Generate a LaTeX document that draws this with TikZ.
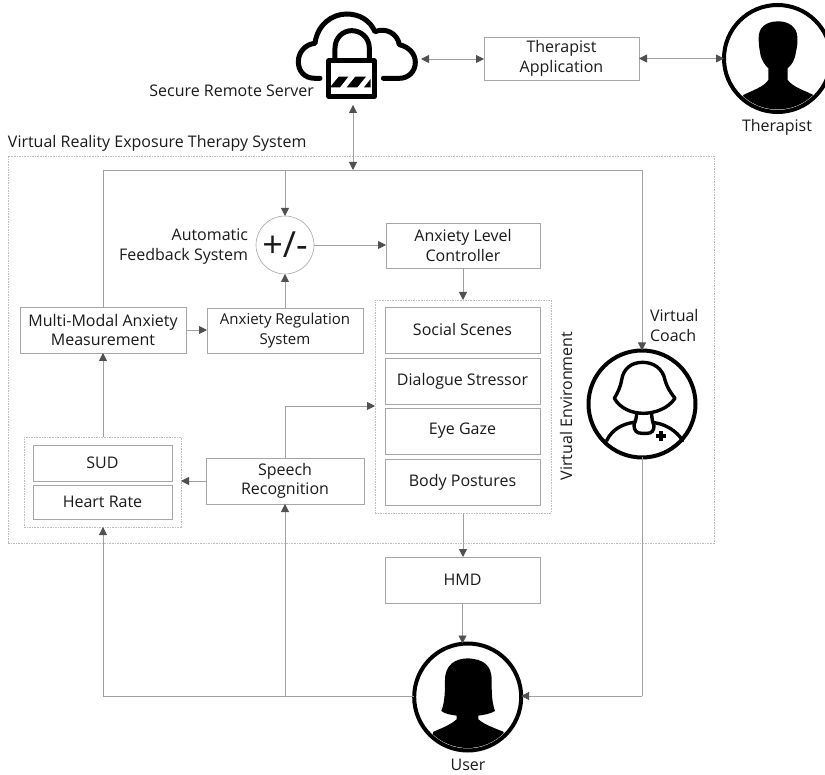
\documentclass[tikz,border=0pt]{standalone}
\usepackage{fontspec}
\setmainfont{Open Sans}
\usetikzlibrary{arrows.meta,calc}
\definecolor{boxline}{HTML}{A6A6A6}
\definecolor{wire}{HTML}{A0A0A0}
\definecolor{tip}{HTML}{505050}
\definecolor{dots}{HTML}{BDBDBD}
\definecolor{ink}{HTML}{1A1A1A}
\tikzset{
  x=1pt,y=-1pt,
  every node/.style={text=ink,font=\fontsize{16}{19.5}\selectfont,inner sep=0pt,outer sep=0pt},
  box/.style={draw=boxline,line width=.9pt,fill=white,align=center},
  group/.style={draw=dots,line width=.7pt,dash pattern=on 1.6pt off 1pt},
  wirel/.style={draw=wire,line width=.9pt},
  arr/.style={wirel,-{Triangle[length=8pt,width=8pt,color=tip]}},
  darr/.style={wirel,{Triangle[length=8pt,width=8pt,color=tip]}-{Triangle[length=8pt,width=8pt,color=tip]}},
  ring/.style={circle,draw=black,line width=4pt,minimum size=#1,fill=white},
  icon/.style={line width=#1,draw=black,line cap=round,line join=round},
  zoomA/.style={shift={(#1)},x=.3333pt,y=-.3333pt},
}
\begin{document}
\begin{tikzpicture}
\useasboundingbox (0,0) rectangle (825,775);

% groups
\node[group,minimum width=706pt,minimum height=387pt] (vr) at (361,349.5) {};
\node[group,minimum width=176pt,minimum height=213pt] (ve) at (463,406.5) {};
\node[group,minimum width=157pt,minimum height=90pt] (vitals) at (102.5,482) {};

% boxes
\node[box,minimum width=155pt,minimum height=43pt] (app) at (561.5,58.5) {Therapist\\Application};
\node[box,minimum width=154pt,minimum height=45pt] (ctrl) at (463,245.5) {Anxiety Level\\Controller};
\node[box,minimum width=155pt,minimum height=46pt] (social) at (462.5,330) {Social Scenes};
\node[box,minimum width=155pt,minimum height=46pt] (dialog) at (462.5,381) {Dialogue Stressor};
\node[box,minimum width=155pt,minimum height=46pt] (gaze) at (462.5,431) {Eye Gaze};
\node[box,minimum width=155pt,minimum height=46pt] (body) at (462.5,482) {Body Postures};
\node[box,minimum width=166pt,minimum height=46pt] (mm) at (103,330) {Multi-Modal Anxiety\\Measurement};
\node[box,minimum width=156pt,minimum height=45pt,font=\fontsize{15}{20}\selectfont] (reg) at (285,330.5) {Anxiety Regulation\\System};
\node[box,minimum width=139pt,minimum height=36pt] (sud) at (102.5,463) {SUD};
\node[box,minimum width=139pt,minimum height=34pt] (hr) at (102.5,502) {Heart Rate};
\node[box,minimum width=158pt,minimum height=46pt] (speech) at (285,481) {Speech\\Recognition};
\node[box,minimum width=155pt,minimum height=46pt] (hmd) at (462.5,580) {HMD};
\node[circle,draw=boxline,line width=.6pt,fill=white,minimum size=58pt,font=\fontsize{36}{36}\selectfont] (fb) at (285,245) {+/-};

% icon rings
\node[ring=107pt] (user) at (467.7,697) {};
\node[ring=107pt] (coach) at (642,404) {};
\node[ring=107pt] (therapist) at (777.5,58.5) {};

% labels
\node[anchor=west] (title) at (8,143) {Virtual Reality Exposure Therapy System};
\node[anchor=east] (serverlabel) at (314,91) {Secure Remote Server};
\node[anchor=east,align=right] (fblabel) at (248,246.5) {Automatic\\Feedback System};
\node[anchor=west,align=left] (coachlabel) at (650,325.5) {Virtual\\Coach};
\node[rotate=90] (velabel) at (566,406) {Virtual Environment};
\node (therapistlabel) at (777,127) {Therapist};
\node (userlabel) at (468,765) {User};

% free connector points
\coordinate (serverB) at (353,105);
\coordinate (serverR) at (421,59);
\coordinate (busL) at (103,170);
\coordinate (busR) at (642,170);
\coordinate (busS) at (353,170);
\coordinate (busF) at (285,170);
\coordinate (speechT) at (285,406);
\coordinate (floorL) at (103,696);
\coordinate (floorM) at (285,696);
\coordinate (floorR) at (642,696);

% connectors
\draw[darr] (serverR) -- (app.west |- serverR);
\draw[darr] (app.east) -- (therapist.west);
\draw[darr] (serverB) -- (busS);
\draw[wirel] (mm.north -| busL) -- (busL) -- (busR);
\draw[arr] (busF) -- (fb.north);
\draw[arr] (busR) -- (coach.north);
\draw[arr] (fb.east) -- (ctrl.west |- fb.east);
\draw[arr] (reg.north) -- (fb.south);
\draw[arr] (ctrl.south) -- (ve.north);
\draw[arr] (mm.east) -- (reg.west |- mm.east);
\draw[arr] (vitals.north -| mm.south) -- (mm.south);
\draw[arr] (speech.west) -- (vitals.east |- speech.west);
\draw[wirel] (speech.north) -- (speechT);
\draw[arr] (speechT) -- (ve.west |- speechT);
\draw[arr] (ve.south) -- (hmd.north -| ve.south);
\draw[arr] (hmd.south) -- (hmd.south |- user.north);
\draw[wirel] (user.west |- floorL) -- (floorL);
\draw[arr] (floorL) -- (floorL |- vitals.south);
\draw[arr] (floorM) -- (speech.south);
\draw[wirel] (coach.south) -- (floorR);
\draw[arr] (floorR) -- (user.east |- floorR);

% cloud and lock
\begin{scope}[zoomA={280,0}]
  \draw[icon=5pt] (120,235) -- (105,235)
    .. controls (72,235) and (55,212) .. (55,185)
    .. controls (55,155) and (78,132) .. (105,130)
    .. controls (112,75) and (155,42) .. (200,42)
    .. controls (240,42) and (270,62) .. (285,95)
    .. controls (318,82) and (352,100) .. (358,134)
    .. controls (385,140) and (406,160) .. (406,187)
    .. controls (406,215) and (385,235) .. (358,235) -- (310,235);
  \draw[icon=5pt] (147,183) rectangle (283,290);
  \draw[icon=5pt] (165,180) -- (165,145)
    .. controls (165,112) and (190,92) .. (215,92)
    .. controls (242,92) and (268,112) .. (268,145) -- (268,180);
  \fill[black] (150,262) -- (176,230) -- (205,230) -- (180,262) -- cycle;
  \fill[black] (200,262) -- (226,230) -- (258,230) -- (232,262) -- cycle;
  \fill[black] (252,262) -- (272,237) -- (272,262) -- cycle;
\end{scope}

% user silhouette
\begin{scope}
  \clip (user.center) circle (51pt);
  \begin{scope}[zoomA={400,630}]
    \fill[black] (124,243)
      .. controls (135,215) and (135,180) .. (135,150)
      .. controls (135,105) and (165,85) .. (205,85)
      .. controls (250,88) and (275,105) .. (275,150)
      .. controls (275,185) and (275,215) .. (285,243)
      .. controls (270,252) and (250,255) .. (235,257)
      -- (235,268) .. controls (255,285) and (285,295) .. (310,305)
      -- (330,400) -- (80,400) -- (100,305)
      .. controls (125,295) and (150,285) .. (170,268)
      -- (170,257) .. controls (155,255) and (135,252) .. (124,243) -- cycle;
  \end{scope}
\end{scope}

% therapist silhouette
\begin{scope}
  \clip (therapist.center) circle (51pt);
  \begin{scope}[zoomA={700,0}]
    \fill[black] (235,64)
      .. controls (195,64) and (175,85) .. (176,115)
      .. controls (176,135) and (178,145) .. (180,155)
      .. controls (182,180) and (195,195) .. (205,205)
      -- (205,240) .. controls (190,262) and (155,272) .. (130,285)
      -- (110,380) -- (360,380) -- (340,285)
      .. controls (315,272) and (280,262) .. (263,240)
      -- (263,205) .. controls (275,195) and (285,180) .. (288,155)
      .. controls (292,140) and (293,125) .. (292,110)
      .. controls (290,80) and (265,64) .. (235,64) -- cycle;
  \end{scope}
\end{scope}

% coach silhouette
\begin{scope}[zoomA={570,300}]
  \draw[icon=3.4pt] (218,187)
    .. controls (185,187) and (160,205) .. (155,240)
    .. controls (152,260) and (142,280) .. (133,295)
    .. controls (150,325) and (185,340) .. (220,340)
    .. controls (255,340) and (295,325) .. (315,295)
    .. controls (300,275) and (290,260) .. (285,240)
    .. controls (278,205) and (250,187) .. (218,187) -- cycle;
  \draw[icon=3.4pt] (200,340) .. controls (200,355) and (195,365) .. (192,375)
    .. controls (192,392) and (200,400) .. (215,400) -- (232,400)
    .. controls (245,400) and (252,392) .. (252,378)
    .. controls (248,365) and (245,355) .. (245,340);
  \draw[icon=3.4pt] (110,422) .. controls (125,390) and (155,372) .. (192,367);
  \draw[icon=3.4pt] (252,368) .. controls (285,372) and (320,392) .. (338,422);
  \fill[black] (266,394) rectangle (278,424);
  \fill[black] (257,403) rectangle (288,415);
\end{scope}
\end{tikzpicture}
\end{document}
